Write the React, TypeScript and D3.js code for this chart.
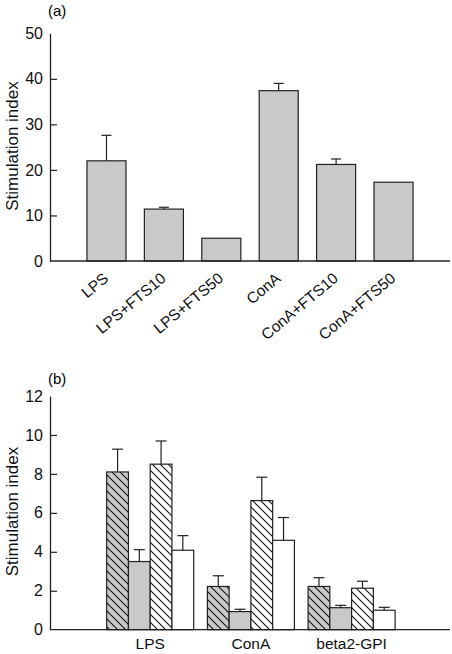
import React, { useEffect, useRef } from "react";
import * as d3 from "d3";

const catsA = ["LPS", "LPS+FTS10", "LPS+FTS50", "ConA", "ConA+FTS10", "ConA+FTS50"];
const valsA = [22.0, 11.4, 5.0, 37.4, 21.2, 17.3];
const errA = [5.6, 0.4, 0, 1.6, 1.2, 0];
const ticksA = [0, 10, 20, 30, 40, 50];

const groupsB = ["LPS", "ConA", "beta2-GPI"];
const seriesB = ["s1", "s2", "s3", "s4"];
const valsB1 = [8.1, 2.22, 2.22];
const errB1 = [1.17, 0.55, 0.45];
const valsB2 = [3.5, 0.93, 1.13];
const errB2 = [0.61, 0.12, 0.12];
const valsB3 = [8.5, 6.63, 2.13];
const errB3 = [1.19, 1.2, 0.36];
const valsB4 = [4.08, 4.59, 1.0];
const errB4 = [0.75, 1.17, 0.15];
const ticksB = [0, 2, 4, 6, 8, 10, 12];

const FONT = "'Liberation Sans', Arial, Helvetica, sans-serif";
const GRAY = "#c9c9c9";
const STROKE = "#222";

export default function App() {
  const ref = useRef<SVGSVGElement>(null);
  useEffect(() => {
    const svg = d3.select(ref.current);
    svg.selectAll("*").remove();

    const defs = svg.append("defs");
    const mk = (id: string, bg: string) => {
      const p = defs
        .append("pattern")
        .attr("id", id)
        .attr("patternUnits", "userSpaceOnUse")
        .attr("width", 8)
        .attr("height", 8);
      p.append("rect").attr("width", 8).attr("height", 8).attr("fill", bg);
      p.append("path")
        .attr("d", "M0,0L8,8M-2,6L2,10M6,-2L10,2")
        .attr("stroke", "#111")
        .attr("stroke-width", 1.1);
    };
    mk("hatchGray", GRAY);
    mk("hatchWhite", "#fff");

    // ---------- Panel (a) ----------
    const gA = svg.append("g");
    const yA = d3.scaleLinear().domain([0, 50]).range([261, 33.3]);
    const xA = d3.scaleBand<string>().domain(catsA).range([68.6, 431.4]).padding(0.32);

    gA.append("text")
      .attr("x", 48)
      .attr("y", 16)
      .attr("font-family", FONT)
      .attr("font-size", 15)
      .text("(a)");

    gA.selectAll("rect.bar")
      .data(catsA)
      .join("rect")
      .attr("x", (d) => xA(d)!)
      .attr("y", (d, i) => yA(valsA[i]))
      .attr("width", xA.bandwidth())
      .attr("height", (d, i) => yA(0) - yA(valsA[i]))
      .attr("fill", GRAY)
      .attr("stroke", STROKE)
      .attr("stroke-width", 1.2);

    const errGA = gA.selectAll("g.err")
      .data(catsA.filter((d, i) => errA[i] > 0))
      .join("g");
    errGA.append("line")
      .attr("x1", (d) => xA(d)! + xA.bandwidth() / 2)
      .attr("x2", (d) => xA(d)! + xA.bandwidth() / 2)
      .attr("y1", (d) => yA(valsA[catsA.indexOf(d)]))
      .attr("y2", (d) => yA(valsA[catsA.indexOf(d)] + errA[catsA.indexOf(d)]))
      .attr("stroke", STROKE)
      .attr("stroke-width", 1.2);
    errGA.append("line")
      .attr("x1", (d) => xA(d)! + xA.bandwidth() / 2 - 5)
      .attr("x2", (d) => xA(d)! + xA.bandwidth() / 2 + 5)
      .attr("y1", (d) => yA(valsA[catsA.indexOf(d)] + errA[catsA.indexOf(d)]))
      .attr("y2", (d) => yA(valsA[catsA.indexOf(d)] + errA[catsA.indexOf(d)]))
      .attr("stroke", STROKE)
      .attr("stroke-width", 1.2);

    const axA = gA.append("g")
      .attr("transform", "translate(50,0)")
      .call(d3.axisLeft(yA).tickValues(ticksA).tickSizeInner(-7).tickSizeOuter(0).tickPadding(7));
    axA.selectAll("text").attr("font-family", FONT).attr("font-size", 16).attr("fill", "#111");
    axA.selectAll("line").attr("stroke", STROKE).attr("stroke-width", 1.2);
    axA.select(".domain").attr("stroke", STROKE).attr("stroke-width", 1.3);
    axA.selectAll(".tick").filter((d: any) => d === 50 || d === 0).select("line").remove();

    gA.append("line")
      .attr("x1", 50).attr("x2", 450)
      .attr("y1", yA(0)).attr("y2", yA(0))
      .attr("stroke", STROKE).attr("stroke-width", 1.3);

    gA.selectAll("text.xl")
      .data(catsA)
      .join("text")
      .attr("transform", (d) => `translate(${xA(d)! + xA.bandwidth() / 2 + 3},280) rotate(-40)`)
      .attr("text-anchor", "end")
      .attr("font-family", FONT)
      .attr("font-size", 15.5)
      .attr("fill", "#111")
      .text((d) => d);

    gA.append("text")
      .attr("transform", "translate(18,146) rotate(-90)")
      .attr("text-anchor", "middle")
      .attr("font-family", FONT)
      .attr("font-size", 17)
      .attr("fill", "#111")
      .text("Stimulation index");

    // ---------- Panel (b) ----------
    const gB = svg.append("g");
    const yB = d3.scaleLinear().domain([0, 12]).range([629.7, 396]);
    const x0 = d3.scaleBand<string>().domain(groupsB).range([93, 408.8]).padding(0.136);
    const x1 = d3.scaleBand<string>().domain(seriesB).range([0, x0.bandwidth()]).padding(0);
    const valsB = [valsB1, valsB2, valsB3, valsB4];
    const errB = [errB1, errB2, errB3, errB4];
    const fills = ["url(#hatchGray)", GRAY, "url(#hatchWhite)", "#fff"];

    gB.append("text")
      .attr("x", 48)
      .attr("y", 384)
      .attr("font-family", FONT)
      .attr("font-size", 15)
      .text("(b)");

    const flat: { g: string; s: string; gi: number; si: number }[] = [];
    groupsB.forEach((g, gi) => seriesB.forEach((s, si) => flat.push({ g, s, gi, si })));

    gB.selectAll("rect.bar")
      .data(flat)
      .join("rect")
      .attr("x", (d) => x0(d.g)! + x1(d.s)!)
      .attr("y", (d) => yB(valsB[d.si][d.gi]))
      .attr("width", x1.bandwidth())
      .attr("height", (d) => yB(0) - yB(valsB[d.si][d.gi]))
      .attr("fill", (d) => fills[d.si])
      .attr("stroke", STROKE)
      .attr("stroke-width", 1.2);

    const cx = (d: any) => x0(d.g)! + x1(d.s)! + x1.bandwidth() / 2;
    const eg = gB.selectAll("g.err").data(flat).join("g");
    eg.append("line")
      .attr("x1", cx).attr("x2", cx)
      .attr("y1", (d) => yB(valsB[d.si][d.gi]))
      .attr("y2", (d) => yB(valsB[d.si][d.gi] + errB[d.si][d.gi]))
      .attr("stroke", STROKE).attr("stroke-width", 1.2);
    eg.append("line")
      .attr("x1", (d) => cx(d) - 5.5).attr("x2", (d) => cx(d) + 5.5)
      .attr("y1", (d) => yB(valsB[d.si][d.gi] + errB[d.si][d.gi]))
      .attr("y2", (d) => yB(valsB[d.si][d.gi] + errB[d.si][d.gi]))
      .attr("stroke", STROKE).attr("stroke-width", 1.2);

    const axB = gB.append("g")
      .attr("transform", "translate(50,0)")
      .call(d3.axisLeft(yB).tickValues(ticksB).tickSizeInner(-7).tickSizeOuter(0).tickPadding(7));
    axB.selectAll("text").attr("font-family", FONT).attr("font-size", 16).attr("fill", "#111");
    axB.selectAll("line").attr("stroke", STROKE).attr("stroke-width", 1.2);
    axB.select(".domain").attr("stroke", STROKE).attr("stroke-width", 1.3);
    axB.selectAll(".tick").filter((d: any) => d === 12 || d === 0).select("line").remove();

    gB.append("line")
      .attr("x1", 50).attr("x2", 450)
      .attr("y1", yB(0)).attr("y2", yB(0))
      .attr("stroke", STROKE).attr("stroke-width", 1.3);

    gB.selectAll("text.xl")
      .data(groupsB)
      .join("text")
      .attr("x", (d) => x0(d)! + x0.bandwidth() / 2)
      .attr("y", 649)
      .attr("text-anchor", "middle")
      .attr("font-family", FONT)
      .attr("font-size", 15.5)
      .attr("fill", "#111")
      .text((d) => d);

    gB.append("text")
      .attr("transform", "translate(18,511.5) rotate(-90)")
      .attr("text-anchor", "middle")
      .attr("font-family", FONT)
      .attr("font-size", 17)
      .attr("fill", "#111")
      .text("Stimulation index");
  }, []);

  return (
    <svg
      ref={ref}
      width={452}
      height={654}
      style={{ position: "absolute", left: 0, top: 0, background: "#fff" }}
    />
  );
}
